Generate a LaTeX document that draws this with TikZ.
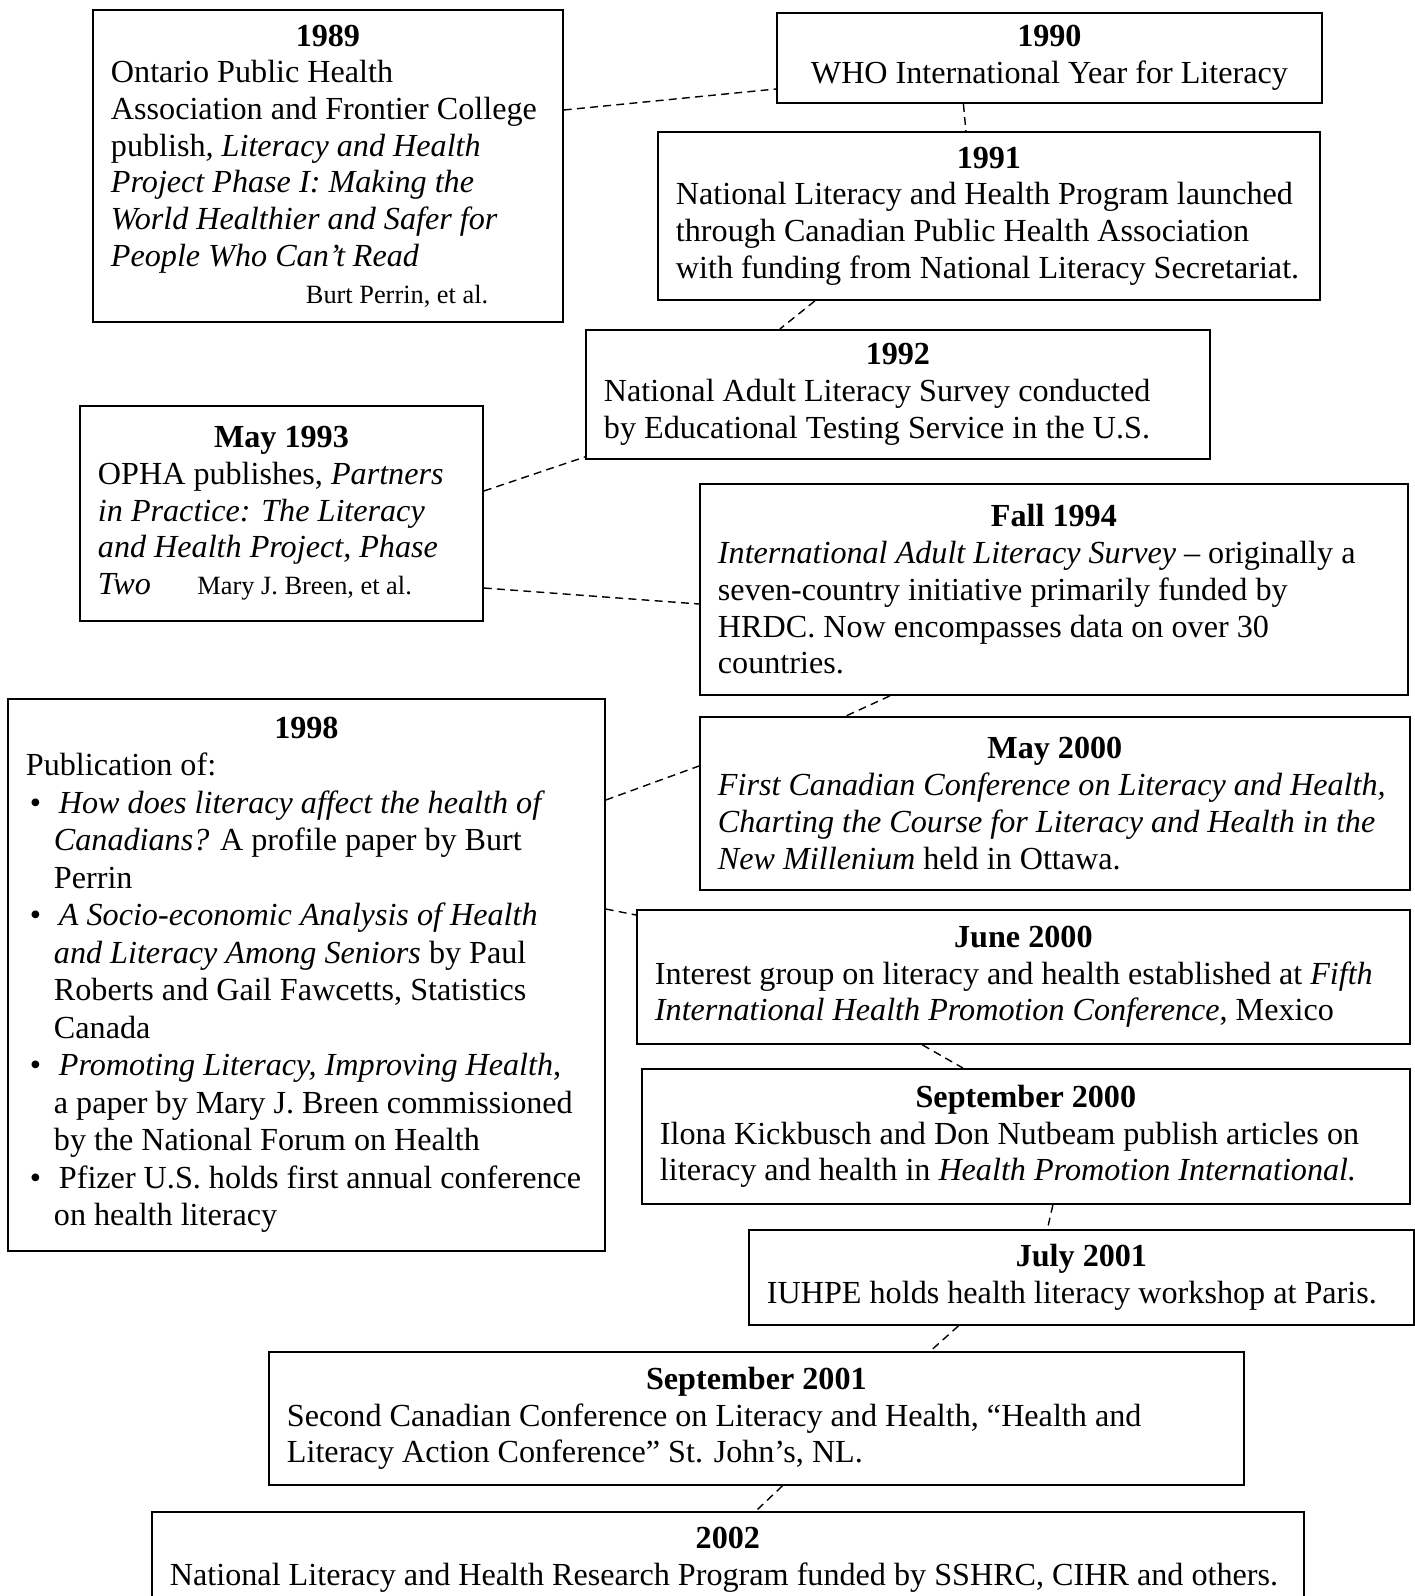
\documentclass[tikz,border=0pt]{standalone}
\usepackage{fontspec}
\setmainfont{Liberation Serif}
\usetikzlibrary{calc}

\newcommand{\yr}[1]{{\centering\bfseries #1\par}}
\newcommand{\byline}[1]{{\fontsize{15}{20.9}\selectfont #1}}
\newcommand{\itm}{\makebox[0.56cm][l]{\hspace{0.08cm}\textbullet}\hspace{0.1cm}}

\begin{document}
\begin{tikzpicture}[x=0.02cm, y=-0.02cm,
  evt/.style={draw, line width=1.1pt, anchor=north west, align=flush left, inner xsep=0.36cm, inner ysep=2pt, font=\fontsize{18.3}{20.9}\selectfont},
  link/.style={draw, line width=0.8pt, dash pattern=on 4.5pt off 3pt}]
\useasboundingbox (0,0) rectangle (1414,1596);

\node[evt, minimum width=9.4cm, minimum height=6.24cm, text width=8.68cm] (y1989) at (92,9) {\yr{1989}
Ontario Public Health\\
Association and Frontier College\\
publish\textit{, Literacy and Health}\\
\textit{Project Phase I: Making the}\\
\textit{World Healthier and Safer for}\\
\textit{People Who Can’t Read}\\
\hspace*{3.9cm}\byline{Burt Perrin, et al.}};
\node[evt, align=flush center, minimum width=10.9cm, minimum height=1.8cm, text width=10.18cm] (y1990) at (776,12) {\yr{1990}
WHO International Year for Literacy};
\node[evt, minimum width=13.24cm, minimum height=3.36cm, text width=12.52cm] (y1991) at (657,131) {\yr{1991}
National Literacy and Health Program launched\\
through Canadian Public Health Association\\
with funding from National Literacy Secretariat.};
\node[evt, minimum width=12.48cm, minimum height=2.58cm, text width=11.76cm] (y1992) at (585,329) {\yr{1992}
National Adult Literacy Survey conducted\\
by Educational Testing Service in the U.S.};
\node[evt, minimum width=8.06cm, minimum height=4.3cm, text width=7.34cm] (m1993) at (79,405) {\yr{May 1993}
OPHA publishes, \textit{Partners}\\
\textit{in Practice: The Literacy}\\
\textit{and Health Project, Phase}\\
\makebox[1.99cm][l]{\textit{Two}}\byline{Mary J. Breen, et al.}};
\node[evt, minimum width=14.16cm, minimum height=4.22cm, text width=13.44cm] (f1994) at (699,483) {\yr{Fall 1994}
\textit{International Adult Literacy Survey} – originally a\\
seven-country initiative primarily funded by\\
HRDC. Now encompasses data on over 30\\
countries.};
\node[evt, font=\fontsize{18.3}{21.35}\selectfont, minimum width=11.94cm, minimum height=11.04cm, text width=11.22cm] (y1998) at (7,698) {\yr{1998}
Publication of:\\
\itm\textit{How does literacy affect the health of}\\
\hspace*{0.56cm}\textit{Canadians?} A profile paper by Burt\\
\hspace*{0.56cm}Perrin\\
\itm\textit{A Socio-economic Analysis of Health}\\
\hspace*{0.56cm}\textit{and Literacy Among Seniors} by Paul\\
\hspace*{0.56cm}Roberts and Gail Fawcetts, Statistics\\
\hspace*{0.56cm}Canada\\
\itm\textit{Promoting Literacy, Improving Health},\\
\hspace*{0.56cm}a paper by Mary J. Breen commissioned\\
\hspace*{0.56cm}by the National Forum on Health\\
\itm Pfizer U.S. holds first annual conference\\
\hspace*{0.56cm}on health literacy};
\node[evt, minimum width=14.2cm, minimum height=3.46cm, text width=13.48cm] (m2000) at (699,716) {\yr{May 2000}
\textit{First Canadian Conference on Literacy and Health,}\\
\textit{Charting the Course for Literacy and Health in the}\\
\textit{New Millenium} held in Ottawa.};
\node[evt, minimum width=15.46cm, minimum height=2.68cm, text width=14.74cm] (j2000) at (636,909) {\yr{June 2000}
Interest group on literacy and health established at \textit{Fifth}\\
\textit{International Health Promotion Conference}, Mexico};
\node[evt, minimum width=15.36cm, minimum height=2.7cm, text width=14.64cm] (s2000) at (641,1068) {\yr{September 2000}
Ilona Kickbusch and Don Nutbeam publish articles on\\
literacy and health in \textit{Health Promotion International.}};
\node[evt, minimum width=13.3cm, minimum height=1.9cm, text width=12.58cm] (j2001) at (748,1229) {\yr{July 2001}
IUHPE holds health literacy workshop at Paris.};
\node[evt, minimum width=19.5cm, minimum height=2.66cm, text width=18.78cm] (s2001) at (268,1351) {\yr{September 2001}
Second Canadian Conference on Literacy and Health, “Health and\\
Literacy Action Conference” St. John’s, NL.};
\node[evt, minimum width=23.04cm, minimum height=1.9cm, text width=22.32cm] (y2002) at (151,1511) {\yr{2002}
National Literacy and Health Research Program funded by SSHRC, CIHR and others.};

\draw[link] ($(y1989.north east)+(0,101)$) -- ($(y1990.north west)+(0,77)$);
\draw[link] ($(y1990.south)+(-86,0)$) -- ($(y1991.north)+(-23,0)$);
\draw[link] ($(y1991.south)+(-174,0)$) -- ($(y1992.north)+(-118,0)$);
\draw[link] ($(m1993.north east)+(0,86)$) -- ($(y1992.south west)+(0,-3)$);
\draw[link] ($(m1993.north east)+(0,183)$) -- ($(f1994.north west)+(0,121)$);
\draw[link] ($(f1994.south)+(-164,0)$) -- ($(m2000.north)+(-209,0)$);
\draw[link] ($(y1998.north east)+(0,102)$) -- ($(m2000.north west)+(0,50)$);
\draw[link] ($(y1998.north east)+(0,211)$) -- ($(j2000.north west)+(0,6)$);
\draw[link] ($(j2000.south)+(-101,0)$) -- ($(s2000.north)+(-63,0)$);
\draw[link] ($(s2000.south)+(27,0)$) -- ($(j2001.north)+(-34,0)$);
\draw[link] ($(j2001.south)+(-123,0)$) -- ($(s2001.north)+(174,0)$);
\draw[link] ($(s2001.south)+(26,0)$) -- ($(y2002.north)+(28,0)$);
\end{tikzpicture}
\end{document}
